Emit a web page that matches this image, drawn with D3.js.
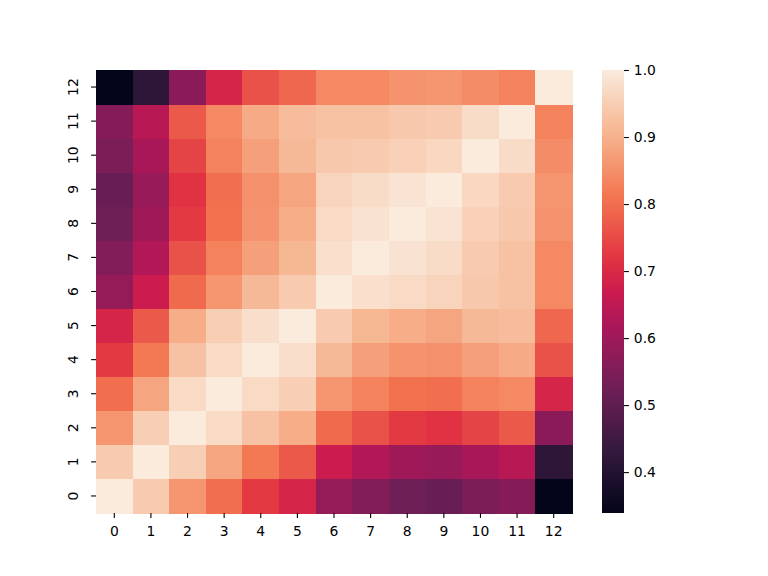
<!DOCTYPE html>
<html>
<head>
<meta charset="utf-8">
<script src="https://cdn.jsdelivr.net/npm/d3@7"></script>
<style>
  body { margin: 0; background: #fff; }
  text { font-family: "DejaVu Sans", sans-serif; font-size: 13.9px; fill: #000; }
</style>
</head>
<body>
<svg id="canvas" width="768" height="576"></svg>
<script>
// row labels 0..12 (0 at the bottom), column labels 0..12
const labels = d3.range(13);

const matrix = [
    [1.00, 0.945, 0.86, 0.80, 0.725, 0.69, 0.585, 0.555, 0.525, 0.515, 0.545, 0.56, 0.339],
    [0.945, 1.00, 0.95, 0.885, 0.815, 0.77, 0.67, 0.63, 0.60, 0.59, 0.615, 0.64, 0.42],
    [0.86, 0.95, 1.00, 0.97, 0.93, 0.895, 0.795, 0.76, 0.725, 0.715, 0.74, 0.77, 0.57],
    [0.80, 0.885, 0.97, 1.00, 0.97, 0.95, 0.86, 0.83, 0.805, 0.80, 0.83, 0.84, 0.69],
    [0.725, 0.815, 0.93, 0.97, 1.00, 0.978, 0.915, 0.875, 0.855, 0.85, 0.875, 0.89, 0.76],
    [0.69, 0.77, 0.895, 0.95, 0.978, 1.00, 0.945, 0.91, 0.895, 0.885, 0.915, 0.92, 0.79],
    [0.585, 0.67, 0.795, 0.86, 0.915, 0.945, 1.00, 0.98, 0.97, 0.96, 0.94, 0.93, 0.84],
    [0.555, 0.63, 0.76, 0.83, 0.875, 0.91, 0.98, 1.00, 0.985, 0.975, 0.945, 0.93, 0.84],
    [0.525, 0.60, 0.725, 0.805, 0.855, 0.895, 0.97, 0.985, 1.00, 0.988, 0.955, 0.94, 0.855],
    [0.515, 0.59, 0.715, 0.80, 0.85, 0.885, 0.96, 0.975, 0.988, 1.00, 0.965, 0.945, 0.86],
    [0.545, 0.615, 0.74, 0.83, 0.875, 0.915, 0.94, 0.945, 0.955, 0.965, 1.00, 0.975, 0.845],
    [0.56, 0.64, 0.77, 0.84, 0.89, 0.92, 0.93, 0.93, 0.94, 0.945, 0.975, 1.00, 0.83],
    [0.339, 0.42, 0.57, 0.69, 0.76, 0.79, 0.84, 0.84, 0.855, 0.86, 0.845, 0.83, 1.00]
];

const colorbarTicks = [0.4, 0.5, 0.6, 0.7, 0.8, 0.9, 1.0];

// seaborn "rocket" approximated by a few stops
const rocketPos = [0, 1 / 7, 2 / 7, 3 / 7, 0.5, 4 / 7, 5 / 7, 6 / 7, 1];
const rocketStops = ['#03051a', '#35193e', '#701f57', '#ad1759', '#cb1b4f', '#e13342', '#f37651', '#f6b48f', '#faebdd'];

const vmin = d3.min(matrix.flat());
const vmax = d3.max(matrix.flat());

const rocket = d3.scaleLinear()
    .domain(rocketPos)
    .range(rocketStops)
    .interpolate(d3.interpolateRgb);

const color = v => rocket((v - vmin) / (vmax - vmin));

const svg = d3.select('#canvas');

const plotLeft = 96, plotRight = 572, plotTop = 70, plotBottom = 513;

const x = d3.scaleBand().domain(labels).range([plotLeft, plotRight]);
const y = d3.scaleBand().domain(labels).range([plotBottom, plotTop]);

let cells = [];
matrix.forEach((row, i) => row.forEach((v, j) => cells.push({ row: i, col: j, value: v })));

svg.append('g')
    .selectAll('rect')
    .data(cells)
    .enter()
    .append('rect')
    .attr('x', d => x(d.col))
    .attr('y', d => y(d.row))
    .attr('width', x.bandwidth() + 0.5)
    .attr('height', y.bandwidth() + 0.5)
    .attr('fill', d => color(d.value))
    .attr('shape-rendering', 'crispEdges');

// axes
const xAxis = svg.append('g')
    .attr('transform', 'translate(0,' + plotBottom + ')')
    .call(d3.axisBottom(x).tickSize(4.9).tickPadding(8.5));

const yAxis = svg.append('g')
    .attr('transform', 'translate(' + plotLeft + ',0)')
    .call(d3.axisLeft(y).tickSize(4.9).tickPadding(4.9));

[xAxis, yAxis].forEach(ax => {
    ax.select('.domain').remove();
    ax.selectAll('line').attr('stroke', '#000').attr('stroke-width', 1.1);
    ax.selectAll('text').style('font-size', '13.9px').style('font-family', '"DejaVu Sans", sans-serif').attr('fill', '#000');
});

yAxis.selectAll('text')
    .attr('x', null)
    .attr('dy', null)
    .attr('text-anchor', 'middle')
    .attr('transform', 'translate(-23,0) rotate(-90)')
    .attr('dominant-baseline', 'central');

// colorbar
const cbLeft = 602, cbWidth = 22;
const cbScale = d3.scaleLinear().domain([vmin, vmax]).range([plotBottom, plotTop]);

const defs = svg.append('defs');
const grad = defs.append('linearGradient')
    .attr('id', 'cbgrad')
    .attr('x1', 0).attr('y1', 1).attr('x2', 0).attr('y2', 0);

d3.range(0, 1.0001, 0.02).forEach(t => {
    grad.append('stop')
        .attr('offset', t)
        .attr('stop-color', rocket(t));
});

svg.append('rect')
    .attr('x', cbLeft)
    .attr('y', plotTop)
    .attr('width', cbWidth)
    .attr('height', plotBottom - plotTop)
    .attr('fill', 'url(#cbgrad)');

const cbAxis = svg.append('g')
    .attr('transform', 'translate(' + (cbLeft + cbWidth) + ',0)')
    .call(d3.axisRight(cbScale).tickValues(colorbarTicks).tickFormat(d3.format('.1f')).tickSize(4.9).tickPadding(4.9));

cbAxis.select('.domain').remove();
cbAxis.selectAll('line').attr('stroke', '#000').attr('stroke-width', 1.1);
cbAxis.selectAll('text').style('font-size', '13.9px').style('font-family', '"DejaVu Sans", sans-serif').attr('fill', '#000');
</script>
</body>
</html>
